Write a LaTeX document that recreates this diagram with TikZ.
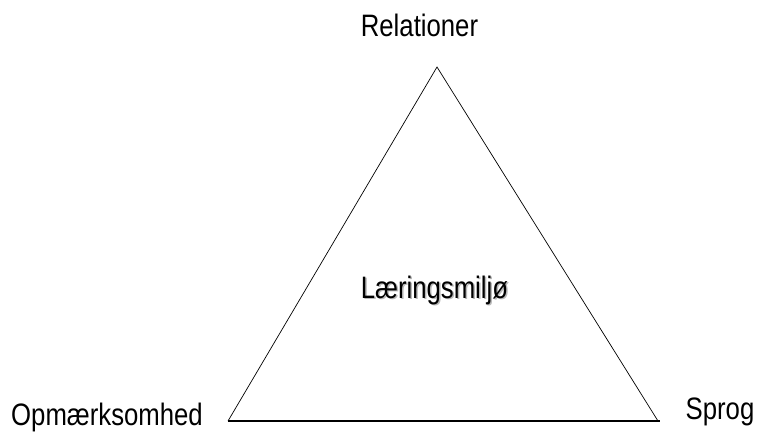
\documentclass[tikz,border=0pt]{standalone}
\usepackage{fontspec}
\setmainfont{Liberation Sans}
\newfontfamily\narrowfont[FakeStretch=0.83]{Liberation Sans}
\begin{document}
\begin{tikzpicture}[x=1pt, y=-1pt, every node/.style={font=\narrowfont\fontsize{31}{37}\selectfont, inner sep=0pt, anchor=base}]
		\useasboundingbox (0,0) rectangle (757,432);
		\coordinate (T) at (437,67);
		\coordinate (L) at (228,421);
		\coordinate (R) at (658,421);
		\node (Rel) at (419.5,36) {Relationer};
		\node (Opm) at (107,425) {Opmærksomhed};
		\node (Spr) at (720,419) {Sprog};
		\node[text=gray!55] (Shd) at (436,299.5) {Læringsmiljø};
		\node (Lm) at (434.5,298) {Læringsmiljø};
		\draw[line width=0.7pt](L) -- (T) -- (R);
		\draw[line width=1.6pt](L) -- ([xshift=2pt]R);
		\end{tikzpicture}
\end{document}
